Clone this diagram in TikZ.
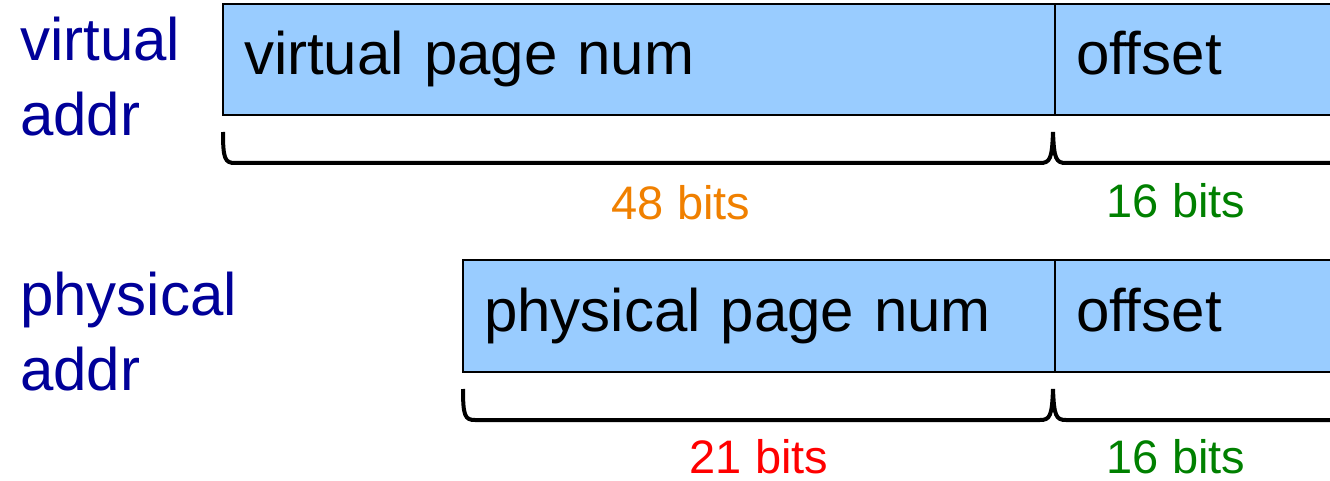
\documentclass[tikz,border=0pt]{standalone}
\usepackage{fontspec}
\setmainfont{Liberation Sans}
\usetikzlibrary{calc}
\definecolor{fieldblue}{HTML}{99CCFF}
\definecolor{labelblue}{HTML}{000099}
\definecolor{bitorange}{HTML}{F08000}
\definecolor{bitgreen}{HTML}{008000}
\definecolor{bitred}{HTML}{FF0000}
\begin{document}
\begin{tikzpicture}[x=1pt,y=-1pt,
  field/.style={draw=black, line width=2.5pt, fill=fieldblue, anchor=north west,
    inner xsep=21pt, inner ysep=0pt, outer sep=0pt, align=left,
    text height=43pt, text depth=13pt, font=\fontsize{60}{72}\selectfont},
  addrlabel/.style={anchor=north west, inner sep=0pt, align=left, text=labelblue,
    font=\fontsize{60}{75}\selectfont},
  bits/.style={anchor=base, inner sep=0pt, font=\fontsize{47}{56}\selectfont},
  brace/.style={draw=black, line width=4pt}
]
\useasboundingbox (0,0) rectangle (1330,481);
\clip (0,0) rectangle (1330,481);

% left labels
\node[addrlabel] (vlab) at (20,17) {virtual\\addr};
\node[addrlabel] (plab) at (20,272) {physical\\addr};

% virtual address fields
\node[field, minimum width=832pt, minimum height=111pt, text width=790pt] (vpn) at (223,4) {virtual page num};
\node[field, minimum width=345pt, minimum height=111pt, text width=303pt] (voff) at (vpn.north east) {offset};

% physical address fields
\node[field, minimum width=592pt, minimum height=112pt, text width=550pt] (ppn) at (463,260) {physical page num};
\node[field, minimum width=345pt, minimum height=112pt, text width=303pt] (poff) at (ppn.north east) {offset};

% braces (virtual)
\coordinate (vbL) at ($(vpn.south west)+(0,17)$);
\coordinate (vbM) at ($(vpn.south east)+(-2,17)$);
\draw[brace] (vbL) .. controls ($(vbL)+(0,27)$) and ($(vbL)+(2,31)$) .. ($(vbL)+(12,31)$)
  -- ($(vbM)+(-13,31)$) .. controls ($(vbM)+(-3,31)$) and ($(vbM)+(-1,27)$) .. (vbM)
  .. controls ($(vbM)+(1,27)$) and ($(vbM)+(3,31)$) .. ($(vbM)+(13,31)$)
  -- ($(vbM)+(400,31)$);

% braces (physical)
\coordinate (pbL) at ($(ppn.south west)+(0,17)$);
\coordinate (pbM) at ($(ppn.south east)+(-2,17)$);
\draw[brace] (pbL) .. controls ($(pbL)+(0,27)$) and ($(pbL)+(2,31)$) .. ($(pbL)+(12,31)$)
  -- ($(pbM)+(-13,31)$) .. controls ($(pbM)+(-3,31)$) and ($(pbM)+(-1,27)$) .. (pbM)
  .. controls ($(pbM)+(1,27)$) and ($(pbM)+(3,31)$) .. ($(pbM)+(13,31)$)
  -- ($(pbM)+(400,31)$);

% bit counts
\node[bits, text=bitorange] (vbits) at (681,219) {48 bits};
\node[bits, text=bitgreen] (vobits) at (1176,218) {16 bits};
\node[bits, text=bitred] (pbits) at (759,473) {21 bits};
\node[bits, text=bitgreen] (pobits) at (1176,473) {16 bits};
\end{tikzpicture}
\end{document}
